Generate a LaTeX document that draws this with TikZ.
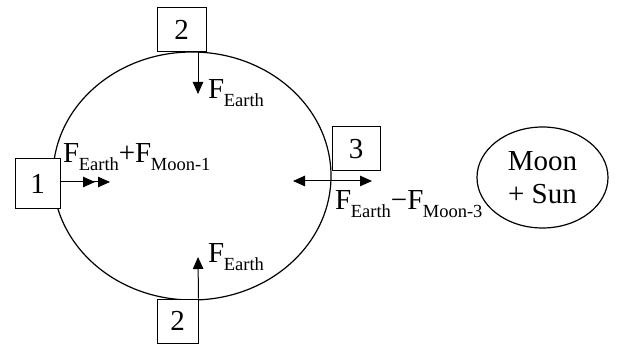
\documentclass[tikz,border=0pt]{standalone}
\usepackage{fontspec}
\setmainfont{Liberation Serif}
\usetikzlibrary{arrows.meta,shapes.geometric}
\newcommand\Fs[1]{F\kern-0.5pt\raisebox{-8pt}{\fontsize{18.5}{20}\selectfont #1}}
\begin{document}
\begin{tikzpicture}[x=1pt,y=-1pt,
  numbox/.style={draw,line width=1pt,inner sep=0pt,font=\fontsize{29}{31}\selectfont},
  lbl/.style={inner sep=0pt,font=\fontsize{29}{31}\selectfont},
  tip/.style={},
  arr/.style={line width=1pt,-{Triangle[length=12pt,width=10.5pt]}},
  darr/.style={line width=1pt,-{Triangle[length=12pt,width=10.5pt,sep=3pt]Triangle[length=12pt,width=10.5pt]}},
  barr/.style={line width=1pt,{Triangle[length=12pt,width=10.5pt]}-{Triangle[length=12pt,width=10.5pt]}}]
\useasboundingbox (0,0) rectangle (618,347);
% Earth orbit ellipse
\node[draw,ellipse,line width=1.2pt,minimum width=278pt,minimum height=248pt,inner sep=0pt] (E) at (192,176) {};
% Moon + Sun
\node[draw,ellipse,line width=1.2pt,minimum width=131pt,minimum height=101pt,inner sep=0pt,align=center,font=\fontsize{29}{33}\selectfont] (ms) at (542.5,177.5) {Moon\\+ Sun};
% boxes
\node[numbox,fill=white,minimum width=45pt,minimum height=50pt] (b1) at (37.5,184) {1};
\node[numbox,fill=white,minimum width=49pt,minimum height=44pt] (b2t) at (181.5,30) {2};
\node[numbox,fill=white,minimum width=41pt,minimum height=44pt] (b2b) at (177.5,321) {2};
\node[numbox,fill=white,minimum width=48pt,minimum height=44pt] (b3) at (356,149) {3};
% arrow end points
\coordinate (a1) at (110,182);
\coordinate (t2) at (198,94);
\coordinate (t2b) at (198,257);
\coordinate (a3l) at (293,181);
\coordinate (a3r) at (372,181);
% arrows
\draw[darr] ([yshift=2pt]b1.east) -- (a1);
\draw[arr] ([xshift=16.5pt]b2t.south) -- (t2);
\draw[arr] (b2b.north east) -- (t2b);
\draw[barr] (a3l) -- (a3r);
% labels
\node[lbl,anchor=base west] (l1) at (63,163) {\Fs{Earth}+\Fs{Moon-1}};
\node[lbl,anchor=base west] (l2t) at (208,99) {\Fs{Earth}};
\node[lbl,anchor=base west] (l2b) at (208,262) {\Fs{Earth}};
\node[lbl,anchor=base west] (l3) at (335,210) {\Fs{Earth}−\Fs{Moon-3}};
\end{tikzpicture}
\end{document}
